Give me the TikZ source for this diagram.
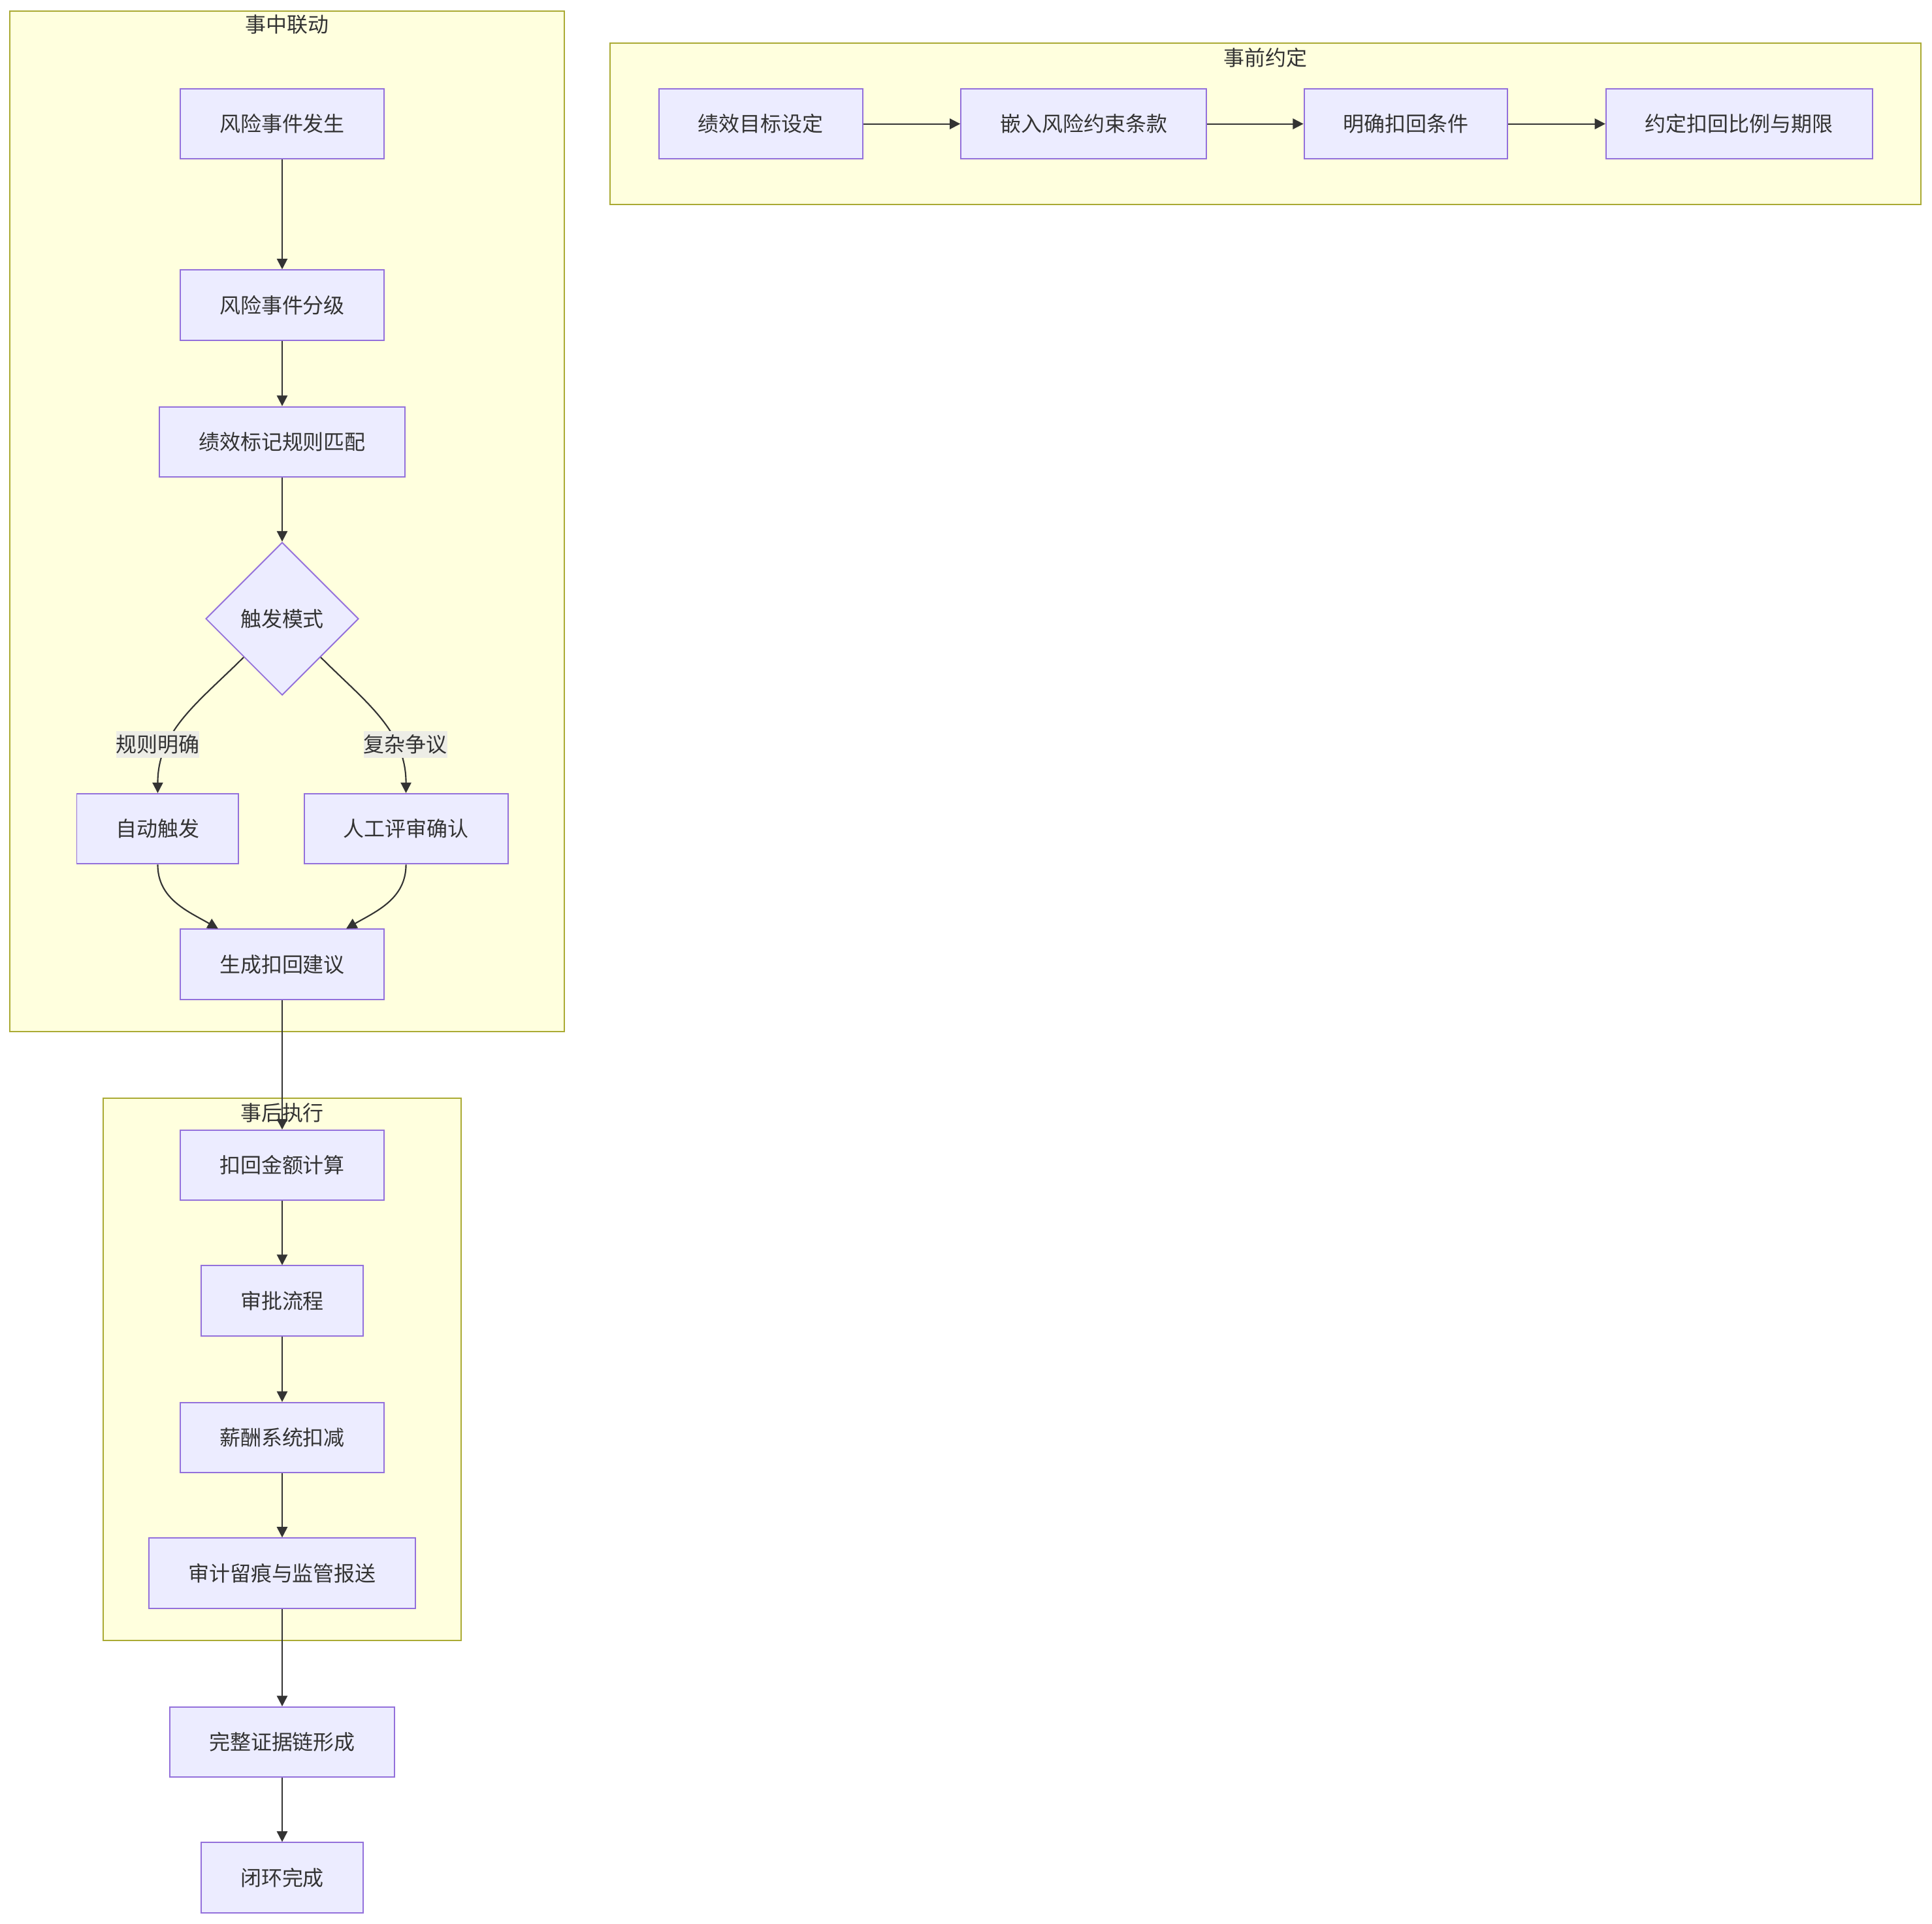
\documentclass[tikz,border=0pt]{standalone}
\usepackage{fontspec}
\setmainfont{Noto Sans CJK SC}
\usetikzlibrary{shapes.geometric,arrows.meta}
\definecolor{nodefill}{HTML}{ECECFF}
\definecolor{nodeline}{HTML}{9370DB}
\definecolor{grpfill}{HTML}{FFFFDE}
\definecolor{grpline}{HTML}{AAAA33}
\definecolor{ink}{HTML}{333333}
\definecolor{tagfill}{HTML}{EDEDE6}
\begin{document}
\begin{tikzpicture}[x=0.18865mm,y=-0.18865mm,
    every node/.style={font=\fontsize{9.1pt}{11pt}\selectfont,text=ink},
    procbox/.style={draw=nodeline,fill=nodefill,line width=0.55pt,inner xsep=6mm,inner ysep=0pt,minimum height=10.75mm},
    decision/.style={diamond,draw=nodeline,fill=nodefill,line width=0.55pt,inner sep=0pt,minimum width=23.4mm,minimum height=23.4mm},
    stage/.style={draw=grpline,fill=grpfill,line width=0.55pt},
    edgetag/.style={fill=tagfill,inner xsep=0pt,inner ysep=1.5pt},
    link/.style={draw=ink,line width=0.6pt,-{Triangle[length=4.6pt,width=4.6pt]}}]
           \useasboundingbox (0,0) rectangle (1568,1561);
           \draw[stage] (8,9) rectangle (458,837);
           \draw[stage] (495,35) rectangle (1559,166);
           \draw[stage] (84,891) rectangle (374,1331);
           \node (t1) at (233,20) {事中联动};
           \node (t2) at (1027,47) {事前约定};
           \node (t3) at (229,903) {事后执行};

           \node[procbox] (p1) at (617.5,100.5) {绩效目标设定};
           \node[procbox] (p2) at (879.5,100.5) {嵌入风险约束条款};
           \node[procbox] (p3) at (1141,100.5) {明确扣回条件};
           \node[procbox] (p4) at (1411.5,100.5) {约定扣回比例与期限};

           \node[procbox] (occur) at (229,100.5) {风险事件发生};
           \node[procbox] (grade) at (229,247.5) {风险事件分级};
           \node[procbox] (match) at (229,358.5) {绩效标记规则匹配};
           \node[decision] (mode) at (229,502) {触发模式};
           \node[procbox] (auto) at (128,672.5) {自动触发};
           \node[procbox] (review) at (329.5,672.5) {人工评审确认};
           \node[procbox] (advice) at (229,782.5) {生成扣回建议};

           \node[procbox] (calc) at (229,945.5) {扣回金额计算};
           \node[procbox] (approve) at (229,1055.5) {审批流程};
           \node[procbox] (payroll) at (229,1166.5) {薪酬系统扣减};
           \node[procbox] (audit) at (229,1276.5) {审计留痕与监管报送};
           \node[procbox] (chain) at (229,1413.5) {完整证据链形成};
           \node[procbox] (done) at (229,1523.5) {闭环完成};

           \draw[link] (p1) -- (p2);
           \draw[link] (p2) -- (p3);
           \draw[link] (p3) -- (p4);

           \draw[link] (occur) -- (grade);
           \draw[link] (grade) -- (match);
           \draw[link] (match) -- (mode.north);
           \draw[link] (mode.south west) to[out=-135,in=90] (auto.north);
           \draw[link] (mode.south east) to[out=-45,in=90] (review.north);
           \node[edgetag] (tagrule) at (128,604) {规则明确};
           \node[edgetag] (tagdispute) at (329,604) {复杂争议};
           \draw[link] (auto.south) to[out=-90,in=150] ([xshift=-0.98cm]advice.north);
           \draw[link] (review.south) to[out=-90,in=30] ([xshift=0.98cm]advice.north);
           \draw[link] (advice) -- (calc);

           \draw[link] (calc) -- (approve);
           \draw[link] (approve) -- (payroll);
           \draw[link] (payroll) -- (audit);
           \draw[link] (audit) -- (chain);
           \draw[link] (chain) -- (done);
\end{tikzpicture}
\end{document}
